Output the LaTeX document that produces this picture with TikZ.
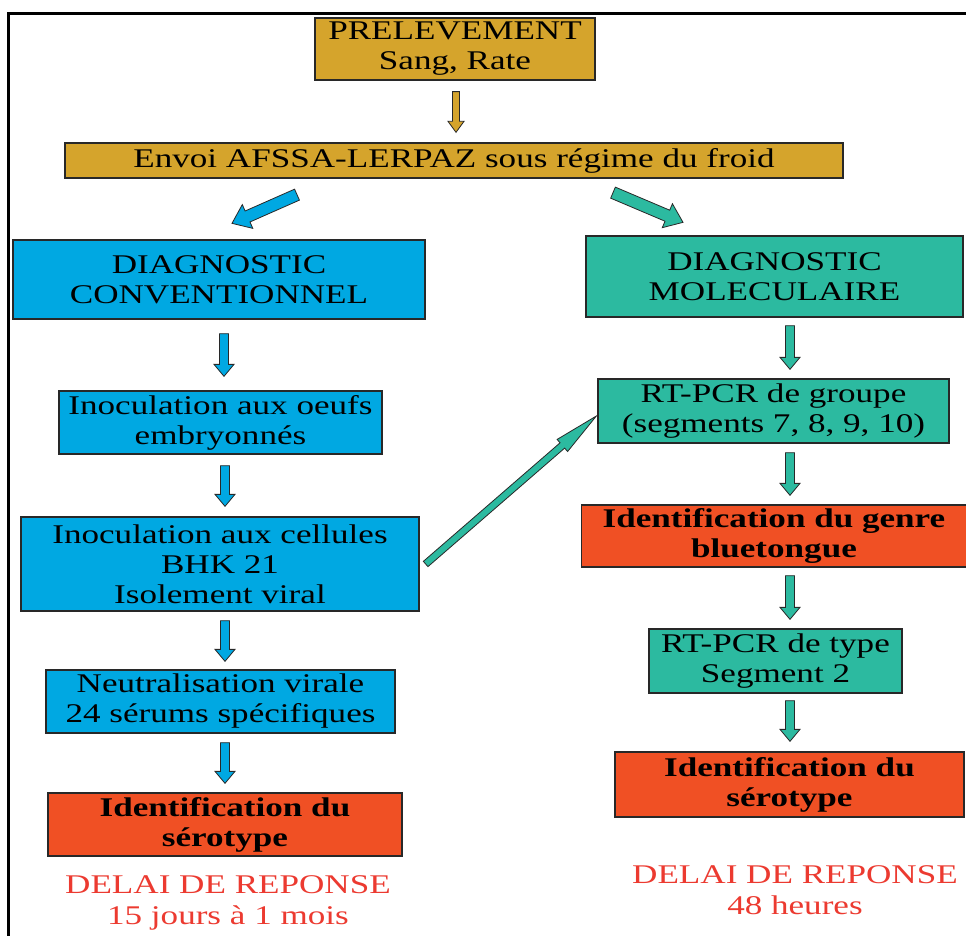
\documentclass[tikz,border=0pt]{standalone}
\usepackage{fontspec}
\setmainfont{Liberation Serif}[FakeStretch=1.3]
\usetikzlibrary{calc}
\definecolor{gold}{RGB}{213,164,44}
\definecolor{cblue}{RGB}{0,168,226}
\definecolor{cteal}{RGB}{44,186,160}
\definecolor{cred}{RGB}{240,80,36}
\definecolor{ctext}{RGB}{236,58,48}
\definecolor{cline}{RGB}{40,40,40}
\tikzset{
  box/.style={draw=cline, line width=1.3pt, align=center, inner sep=0pt,
    font=\fontsize{27}{30}\selectfont, text=black},
  note/.style={align=center, inner sep=0pt, text=ctext,
    font=\fontsize{27}{31}\selectfont}
}
\newcommand\barrow[6]{%
  \path #1 coordinate (bA);
  \path #2 coordinate (bB);
  \path ($(bB)!#6!(bA)$) coordinate (bH);
  \filldraw[fill=#3, draw=cline, line width=0.8pt, line join=miter]
    ($(bA)!#4!90:(bB)$) -- ($(bH)!#4!90:(bB)$) -- ($(bH)!#5!90:(bB)$) -- (bB)
    -- ($(bH)!#5!-90:(bB)$) -- ($(bH)!#4!-90:(bB)$) -- ($(bA)!#4!-90:(bB)$) -- cycle;
}
\begin{document}
\begin{tikzpicture}[x=1pt, y=-1pt]
\useasboundingbox (0,0) rectangle (966,936);
\fill[white] (0,0) rectangle (966,936);
\draw[line width=3pt, black] (8,936) -- (8,14) -- (966,14);

% top
\node[box, fill=gold, minimum width=280pt, minimum height=62pt] (prel) at (455,49) {PRELEVEMENT\\Sang, Rate};
\node[box, fill=gold, minimum width=778pt, minimum height=35pt] (envoi) at (454,160.5) {Envoi AFSSA-LERPAZ sous régime du froid};

% left column
\node[box, fill=cblue, minimum width=412pt, minimum height=79pt] (conv) at (219,279.5) {DIAGNOSTIC\\CONVENTIONNEL};
\node[box, fill=cblue, minimum width=323pt, minimum height=63pt] (oeufs) at (220.5,422.5) {Inoculation aux oeufs\\embryonnés};
\node[box, fill=cblue, minimum width=398pt, minimum height=94pt] (cell) at (220,564) {Inoculation aux cellules\\BHK 21\\Isolement viral};
\node[box, fill=cblue, minimum width=349pt, minimum height=63pt] (neutr) at (220.5,701.5) {Neutralisation virale\\24 sérums spécifiques};
\node[box, fill=cred, minimum width=354pt, minimum height=63pt, font=\fontsize{27}{30}\selectfont\bfseries] (idL) at (225,824.5) {Identification du\\sérotype};
\node[note] (delL) at (228,903) {DELAI DE REPONSE\\15 jours à 1 mois};

% right column
\node[box, fill=cteal, minimum width=377pt, minimum height=81pt] (mol) at (774.5,276.5) {DIAGNOSTIC\\MOLECULAIRE};
\node[box, fill=cteal, minimum width=351pt, minimum height=64pt] (rtg) at (773.5,411) {RT-PCR de groupe\\(segments 7, 8, 9, 10)};
\node[box, fill=cred, minimum width=385pt, minimum height=62pt, font=\fontsize{27}{30}\selectfont\bfseries] (genre) at (774,536) {Identification du genre\\bluetongue};
\node[box, fill=cteal, minimum width=253pt, minimum height=64pt] (rtt) at (775.5,661) {RT-PCR de type\\Segment 2};
\node[box, fill=cred, minimum width=349pt, minimum height=65pt, font=\fontsize{27}{30}\selectfont\bfseries] (idR) at (789.5,784.5) {Identification du\\sérotype};
\node[note] (delR) at (795,890.5) {DELAI DE REPONSE\\48 heures};

% arrows
\barrow{($(prel.south)+(1,11)$)}{($(envoi.north)+(2,-10)$)}{gold}{3.5pt}{8pt}{11pt}
\barrow{($(envoi.south)+(-157,16)$)}{($(conv.north)+(13,-16)$)}{cblue}{6pt}{13pt}{17pt}
\barrow{($(envoi.south)+(159,14)$)}{($(mol.north)+(-91.5,-13)$)}{cteal}{6pt}{13pt}{17pt}

\barrow{($(conv.south)+(5,14)$)}{($(oeufs.north)+(3.5,-14)$)}{cblue}{4.5pt}{10pt}{12pt}
\barrow{($(oeufs.south)+(4.5,11)$)}{($(cell.north)+(5,-10)$)}{cblue}{4.5pt}{10pt}{12pt}
\barrow{($(cell.south)+(5,9)$)}{($(neutr.north)+(4.5,-8)$)}{cblue}{4.5pt}{10pt}{12pt}
\barrow{($(neutr.south)+(4.5,9)$)}{($(idL.north)+(0,-9)$)}{cblue}{4.5pt}{10pt}{12pt}

\barrow{($(mol.south)+(15.5,8)$)}{($(rtg.north)+(16.5,-9)$)}{cteal}{4.5pt}{10pt}{12pt}
\barrow{($(rtg.south)+(16.5,9)$)}{($(genre.north)+(16,-9)$)}{cteal}{4.5pt}{10pt}{12pt}
\barrow{($(genre.south)+(16,8)$)}{($(rtt.north)+(14.5,-9)$)}{cteal}{4.5pt}{10pt}{12pt}
\barrow{($(rtt.south)+(14.5,7)$)}{($(idR.north)+(0.5,-10)$)}{cteal}{4.5pt}{10pt}{12pt}

\barrow{($(cell.east)+(6,0)$)}{($(rtg.west)+(-1,5)$)}{cteal}{3.5pt}{8pt}{45pt}
\end{tikzpicture}
\end{document}
